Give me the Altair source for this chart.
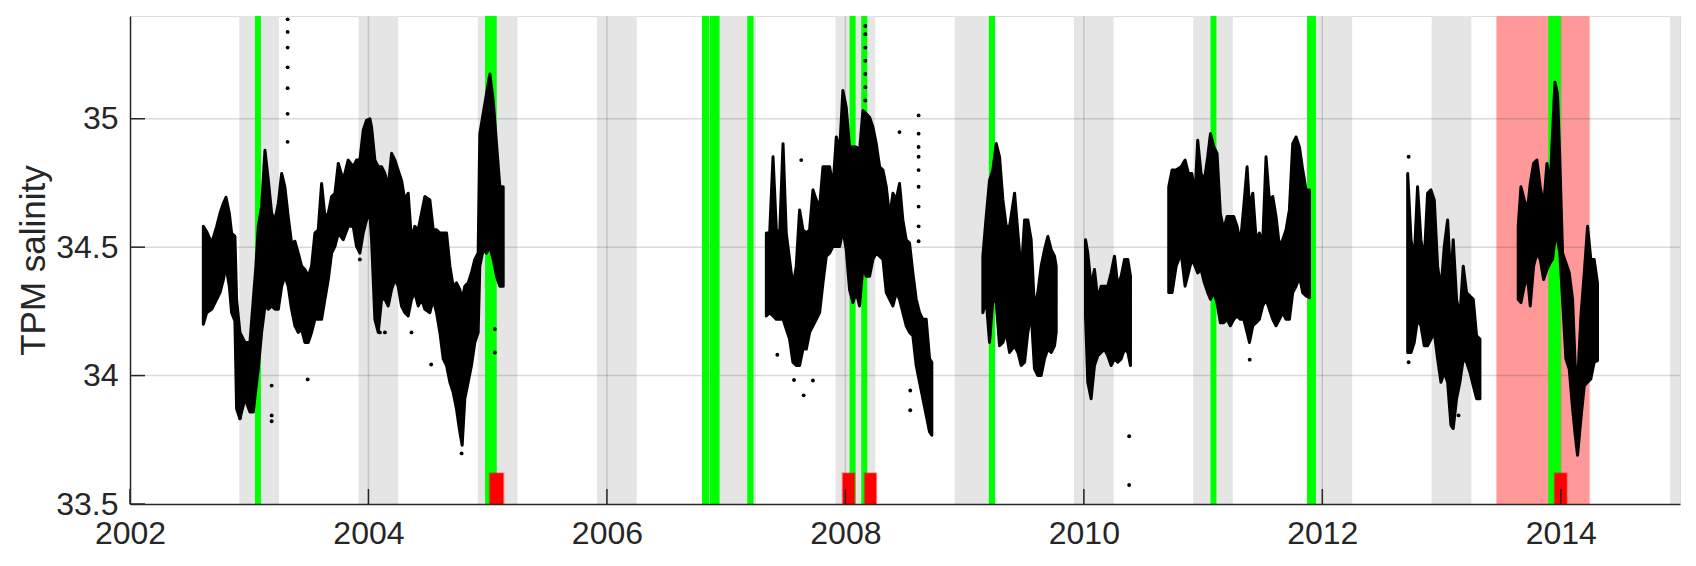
import altair as alt
import pandas as pd

# ---------------- axes / ranges ----------------
X_MIN, X_MAX = 2002, 2015
Y_MIN, Y_MAX = 33.5, 35.4
X_TICKS = [2002, 2004, 2006, 2008, 2010, 2012, 2014]
Y_TICKS = [33.5, 34, 34.5, 35]
X_GRID = [2004, 2006, 2008, 2010, 2012, 2014]
Y_GRID = [34, 34.5, 35]

# ---------------- shaded periods ----------------
WINTER_START = [2002.917, 2003.917, 2004.917, 2005.917, 2006.917, 2007.917, 2008.917,
                2009.917, 2010.917, 2011.917, 2012.917, 2013.917, 2014.917]
WINTER_END = [2003.25, 2004.25, 2005.25, 2006.25, 2007.25, 2008.25, 2009.25,
              2010.25, 2011.25, 2012.25, 2013.25, 2014.25, 2015.25]
PINK_START = [2013.46]
PINK_END = [2014.24]
GREEN_START = [2003.048, 2004.978, 2006.797, 2006.861, 2007.177, 2008.035, 2008.133,
               2009.203, 2011.062, 2011.872, 2013.895]
GREEN_END = [2003.098, 2005.076, 2006.856, 2006.945, 2007.230, 2008.086, 2008.184,
             2009.256, 2011.112, 2011.947, 2014.000]
RED_START = [2005.017, 2007.977, 2008.161, 2013.948]
RED_END = [2005.132, 2008.077, 2008.259, 2014.050]
RED_TOP = 33.62

# ---------------- salinity envelopes (time, low, high) ----------------
SEG_A_YEAR = [2002.615, 2002.643, 2002.685, 2002.727, 2002.755, 2002.783, 2002.805, 2002.833,
              2002.852, 2002.880, 2002.894, 2002.922, 2002.964, 2003.006, 2003.034, 2003.056,
              2003.076, 2003.104, 2003.132, 2003.160, 2003.188, 2003.216, 2003.244, 2003.272,
              2003.299, 2003.327, 2003.355, 2003.383, 2003.411, 2003.439, 2003.467, 2003.495,
              2003.523, 2003.551, 2003.579, 2003.607, 2003.635, 2003.663, 2003.691, 2003.719,
              2003.747, 2003.788, 2003.830, 2003.872, 2003.900, 2003.928, 2003.956, 2003.984,
              2004.012, 2004.026, 2004.054, 2004.082, 2004.110, 2004.138, 2004.166, 2004.194,
              2004.222, 2004.249, 2004.277, 2004.305, 2004.333, 2004.361, 2004.389, 2004.417,
              2004.445, 2004.473, 2004.515, 2004.543, 2004.571, 2004.599, 2004.627, 2004.655,
              2004.683, 2004.710, 2004.738, 2004.766, 2004.786, 2004.808, 2004.836, 2004.864,
              2004.892, 2004.920, 2004.934, 2004.962, 2004.990, 2005.018, 2005.046, 2005.074,
              2005.102, 2005.130]
SEG_A_LO = [34.200, 34.245, 34.258, 34.297, 34.323, 34.374, 34.426, 34.348,
            34.245, 34.213, 33.871, 33.832, 33.910, 33.858, 33.858, 33.948,
            34.026, 34.168, 34.271, 34.258, 34.271, 34.258, 34.258, 34.348,
            34.387, 34.348, 34.258, 34.194, 34.168, 34.181, 34.129, 34.129,
            34.168, 34.219, 34.219, 34.219, 34.297, 34.374, 34.477, 34.503,
            34.555, 34.529, 34.581, 34.581, 34.503, 34.477, 34.555, 34.606,
            34.632, 34.529, 34.219, 34.168, 34.297, 34.297, 34.271, 34.335,
            34.374, 34.348, 34.271, 34.245, 34.232, 34.297, 34.323, 34.271,
            34.297, 34.258, 34.245, 34.297, 34.245, 34.168, 34.065, 34.039,
            33.974, 33.935, 33.871, 33.781, 33.729, 33.910, 33.974, 34.039,
            34.129, 34.168, 34.426, 34.490, 34.477, 34.503, 34.452, 34.387,
            34.348, 34.348]
SEG_A_HI = [34.581, 34.561, 34.516, 34.581, 34.632, 34.671, 34.694, 34.632,
            34.555, 34.542, 34.297, 34.168, 34.129, 34.129, 34.297, 34.426,
            34.581, 34.658, 34.877, 34.761, 34.632, 34.606, 34.671, 34.787,
            34.735, 34.619, 34.516, 34.523, 34.477, 34.426, 34.413, 34.387,
            34.426, 34.555, 34.568, 34.748, 34.619, 34.632, 34.697, 34.710,
            34.826, 34.761, 34.839, 34.813, 34.839, 34.839, 34.955, 34.994,
            35.000, 34.968, 34.839, 34.813, 34.813, 34.787, 34.735, 34.865,
            34.839, 34.800, 34.761, 34.684, 34.710, 34.529, 34.581, 34.568,
            34.632, 34.697, 34.684, 34.568, 34.568, 34.555, 34.555, 34.555,
            34.426, 34.348, 34.361, 34.335, 34.297, 34.348, 34.361, 34.400,
            34.452, 34.477, 34.942, 35.019, 35.097, 35.174, 35.071, 34.903,
            34.735, 34.735]

SEG_B_YEAR = [2007.337, 2007.365, 2007.393, 2007.421, 2007.449, 2007.477, 2007.504, 2007.532,
              2007.560, 2007.588, 2007.616, 2007.644, 2007.672, 2007.700, 2007.728, 2007.756,
              2007.784, 2007.812, 2007.840, 2007.868, 2007.896, 2007.924, 2007.952, 2007.979,
              2008.007, 2008.035, 2008.063, 2008.091, 2008.119, 2008.147, 2008.175, 2008.203,
              2008.231, 2008.259, 2008.287, 2008.315, 2008.343, 2008.371, 2008.399, 2008.426,
              2008.454, 2008.482, 2008.510, 2008.538, 2008.566, 2008.594, 2008.622, 2008.650,
              2008.678, 2008.706, 2008.725]
SEG_B_LO = [34.232, 34.245, 34.232, 34.219, 34.219, 34.219, 34.181, 34.142,
            34.052, 34.039, 34.039, 34.103, 34.103, 34.168, 34.194, 34.219,
            34.245, 34.361, 34.465, 34.477, 34.503, 34.503, 34.503, 34.568,
            34.490, 34.335, 34.284, 34.323, 34.271, 34.426, 34.387, 34.387,
            34.452, 34.477, 34.465, 34.452, 34.323, 34.297, 34.271, 34.323,
            34.297, 34.245, 34.194, 34.168, 34.155, 34.039, 33.974, 33.910,
            33.845, 33.781, 33.768]
SEG_B_HI = [34.555, 34.555, 34.852, 34.568, 34.555, 34.903, 34.555, 34.452,
            34.348, 34.426, 34.645, 34.568, 34.555, 34.568, 34.723, 34.684,
            34.658, 34.813, 34.813, 34.813, 34.735, 34.929, 34.877, 35.110,
            35.045, 34.890, 34.890, 34.890, 34.877, 35.032, 35.019, 35.006,
            34.968, 34.903, 34.813, 34.800, 34.735, 34.619, 34.710, 34.684,
            34.748, 34.606, 34.529, 34.516, 34.400, 34.297, 34.245, 34.219,
            34.219, 34.065, 34.052]

SEG_C_YEAR = [2009.153, 2009.181, 2009.209, 2009.237, 2009.265, 2009.293, 2009.321, 2009.349,
              2009.377, 2009.419, 2009.447, 2009.475, 2009.503, 2009.530, 2009.558, 2009.586,
              2009.614, 2009.642, 2009.670, 2009.698, 2009.726, 2009.754, 2009.768]
SEG_C_LO = [34.245, 34.297, 34.129, 34.297, 34.284, 34.116, 34.129, 34.168,
            34.090, 34.116, 34.090, 34.039, 34.052, 34.168, 34.245, 34.026,
            34.000, 34.000, 34.065, 34.103, 34.090, 34.116, 34.168]
SEG_C_HI = [34.465, 34.619, 34.761, 34.800, 34.903, 34.852, 34.684, 34.581,
            34.581, 34.710, 34.555, 34.400, 34.606, 34.606, 34.529, 34.258,
            34.323, 34.426, 34.490, 34.542, 34.490, 34.465, 34.426]

SEG_D_YEAR = [2010.014, 2010.033, 2010.061, 2010.089, 2010.117, 2010.145, 2010.173, 2010.201,
              2010.229, 2010.257, 2010.285, 2010.313, 2010.341, 2010.369, 2010.391]
SEG_D_LO = [34.232, 33.974, 33.910, 34.039, 34.077, 34.090, 34.103, 34.077,
            34.039, 34.065, 34.052, 34.065, 34.103, 34.090, 34.039]
SEG_D_HI = [34.529, 34.477, 34.348, 34.413, 34.297, 34.348, 34.348, 34.348,
            34.400, 34.465, 34.348, 34.387, 34.452, 34.452, 34.387]

SEG_E_YEAR = [2010.712, 2010.740, 2010.774, 2010.816, 2010.849, 2010.877, 2010.905, 2010.933,
              2010.955, 2010.983, 2011.011, 2011.039, 2011.062, 2011.090, 2011.117, 2011.145,
              2011.173, 2011.201, 2011.229, 2011.257, 2011.285, 2011.313, 2011.341, 2011.369,
              2011.389, 2011.417, 2011.445, 2011.472, 2011.500, 2011.528, 2011.556, 2011.584,
              2011.612, 2011.640, 2011.668, 2011.696, 2011.724, 2011.752, 2011.780, 2011.808,
              2011.836, 2011.864, 2011.892]
SEG_E_LO = [34.323, 34.323, 34.426, 34.477, 34.348, 34.400, 34.452, 34.426,
            34.400, 34.413, 34.361, 34.323, 34.297, 34.323, 34.284, 34.206,
            34.206, 34.219, 34.194, 34.219, 34.232, 34.219, 34.219, 34.168,
            34.129, 34.194, 34.206, 34.219, 34.271, 34.297, 34.258, 34.219,
            34.194, 34.219, 34.245, 34.219, 34.219, 34.323, 34.348, 34.387,
            34.323, 34.310, 34.303]
SEG_E_HI = [34.735, 34.800, 34.800, 34.813, 34.839, 34.787, 34.787, 34.710,
            34.916, 34.787, 34.761, 34.852, 34.942, 34.890, 34.865, 34.632,
            34.568, 34.619, 34.619, 34.619, 34.581, 34.516, 34.658, 34.813,
            34.658, 34.710, 34.529, 34.555, 34.516, 34.852, 34.684, 34.697,
            34.619, 34.503, 34.529, 34.568, 34.645, 34.903, 34.929, 34.890,
            34.800, 34.723, 34.723]

SEG_F_YEAR = [2012.716, 2012.744, 2012.771, 2012.799, 2012.827, 2012.855, 2012.883, 2012.911,
              2012.939, 2012.967, 2012.995, 2013.023, 2013.051, 2013.079, 2013.098, 2013.126,
              2013.154, 2013.182, 2013.210, 2013.238, 2013.266, 2013.294, 2013.322]
SEG_F_LO = [34.090, 34.090, 34.129, 34.219, 34.194, 34.116, 34.116, 34.142,
            34.168, 34.065, 33.974, 34.013, 33.974, 33.806, 33.794, 33.910,
            33.974, 34.065, 34.052, 34.013, 33.961, 33.910, 33.910]
SEG_F_HI = [34.787, 34.529, 34.452, 34.735, 34.529, 34.452, 34.710, 34.723,
            34.684, 34.426, 34.335, 34.503, 34.606, 34.361, 34.529, 34.297,
            34.232, 34.426, 34.323, 34.310, 34.297, 34.155, 34.142]

SEG_G_YEAR = [2013.643, 2013.666, 2013.694, 2013.721, 2013.744, 2013.772, 2013.800, 2013.828,
              2013.856, 2013.884, 2013.911, 2013.931, 2013.951, 2013.973, 2013.992, 2014.015,
              2014.043, 2014.071, 2014.099, 2014.121, 2014.141, 2014.169, 2014.197, 2014.225,
              2014.252, 2014.280, 2014.308]
SEG_G_LO = [34.297, 34.284, 34.348, 34.387, 34.271, 34.426, 34.477, 34.452,
            34.374, 34.413, 34.439, 34.452, 34.529, 34.529, 34.477, 34.297,
            34.065, 34.026, 33.871, 33.768, 33.690, 33.832, 33.961, 33.974,
            33.987, 34.052, 34.058]
SEG_G_HI = [34.581, 34.735, 34.684, 34.645, 34.748, 34.826, 34.839, 34.735,
            34.658, 34.826, 34.735, 34.942, 35.142, 35.097, 34.839, 34.477,
            34.439, 34.400, 34.297, 34.039, 33.974, 34.232, 34.400, 34.581,
            34.452, 34.452, 34.361]

# ---------------- isolated points ----------------
OUT_YEAR = [2003.322, 2003.322, 2003.322, 2003.322, 2003.322, 2003.322, 2003.322,
            2003.188, 2003.188, 2003.188, 2003.490, 2002.922, 2004.526, 2004.781,
            2004.361, 2004.096, 2004.138, 2003.928, 2005.060, 2005.060,
            2008.167, 2008.167, 2008.167, 2008.167, 2008.167, 2008.167, 2008.167,
            2008.614, 2008.614, 2008.614, 2008.614, 2008.614, 2008.614, 2008.614, 2008.614, 2008.614,
            2008.454, 2007.630, 2007.650, 2007.429, 2007.569, 2007.728, 2008.544, 2008.544,
            2010.380, 2010.380, 2011.391, 2012.724, 2012.724, 2013.143]
OUT_VAL = [35.387, 35.338, 35.277, 35.200, 35.119, 35.019, 34.910,
           33.961, 33.845, 33.822, 33.985, 33.835, 34.043, 33.697,
           34.168, 34.168, 34.168, 34.452, 34.090, 34.181,
           35.361, 35.329, 35.277, 35.226, 35.174, 35.123, 35.071,
           35.013, 34.942, 34.890, 34.852, 34.800, 34.735, 34.658, 34.581, 34.523,
           34.948, 34.839, 33.923, 34.081, 33.983, 33.981, 33.942, 33.865,
           33.764, 33.574, 34.062, 34.852, 34.052, 33.845]

# ---------------- build tables ----------------
segments = [("A", SEG_A_YEAR, SEG_A_LO, SEG_A_HI), ("B", SEG_B_YEAR, SEG_B_LO, SEG_B_HI),
            ("C", SEG_C_YEAR, SEG_C_LO, SEG_C_HI), ("D", SEG_D_YEAR, SEG_D_LO, SEG_D_HI),
            ("E", SEG_E_YEAR, SEG_E_LO, SEG_E_HI), ("F", SEG_F_YEAR, SEG_F_LO, SEG_F_HI),
            ("G", SEG_G_YEAR, SEG_G_LO, SEG_G_HI)]
rows = []
for name, ys, lo, hi in segments:
    for t, a, b in zip(ys, lo, hi):
        rows.append({"seg": name, "t": t, "lo": a, "hi": b})
env = pd.DataFrame(rows)
pts = pd.DataFrame({"t": OUT_YEAR, "v": OUT_VAL})
winter = pd.DataFrame({"s": WINTER_START, "e": WINTER_END})
pink = pd.DataFrame({"s": PINK_START, "e": PINK_END})
green = pd.DataFrame({"s": GREEN_START, "e": GREEN_END})
red = pd.DataFrame({"s": RED_START, "e": RED_END})
xgrid = pd.DataFrame({"x": X_GRID})
ygrid = pd.DataFrame({"y": Y_GRID})
xticks = pd.DataFrame({"x": X_TICKS})
yticks = pd.DataFrame({"y": Y_TICKS})

W, H = 1550, 488
TICK = 15
TXT = "#262626"
FONT = "Liberation Sans"

XS = alt.Scale(domain=[X_MIN, X_MAX], nice=False, zero=False)
YS = alt.Scale(domain=[Y_MIN, Y_MAX], nice=False, zero=False)
XAX = alt.Axis(values=X_TICKS, format="d", tickSize=0, grid=False, domainColor=TXT,
               domainWidth=1.5, labelFontSize=32, labelColor=TXT, labelFont=FONT,
               labelPadding=14, labelFlush=False, zindex=2)
YAX = alt.Axis(values=Y_TICKS, format="~g", tickSize=0, grid=False, domainColor=TXT,
               domainWidth=1.5, labelFontSize=32, labelColor=TXT, labelFont=FONT,
               labelPadding=12, titleFontSize=35, titleFont=FONT, titleColor=TXT,
               titleFontWeight="normal", titlePadding=4, zindex=2)


def X(f):
    return alt.X(f, type="quantitative", scale=XS, axis=XAX, title=None)


def Y(f):
    return alt.Y(f, type="quantitative", scale=YS, axis=YAX, title="TPM salinity")


bands = alt.Chart(winter).mark_rect(color="#E5E5E5", clip=True).encode(
    x=X("s"), x2="e", y=alt.datum(Y_MIN, scale=YS), y2=alt.datum(Y_MAX))
pinkband = alt.Chart(pink).mark_rect(color="#FF9999", clip=True).encode(
    x=X("s"), x2="e", y=alt.datum(Y_MIN), y2=alt.datum(Y_MAX))
hgrid = alt.Chart(ygrid).mark_rule(color=TXT, opacity=0.17, strokeWidth=1.5).encode(y=Y("y"))
vgrid = alt.Chart(xgrid).mark_rule(color=TXT, opacity=0.17, strokeWidth=1.5).encode(x=X("x"))
greens = alt.Chart(green).mark_rect(color="#00FF00").encode(
    x=X("s"), x2="e", y=alt.datum(Y_MIN), y2=alt.datum(Y_MAX))
area = alt.Chart(env).mark_area(color="black", stroke="black", strokeWidth=3,
                                strokeJoin="round", interpolate="linear").encode(
    x=X("t"), y=Y("lo"), y2="hi", detail="seg:N")
dots = alt.Chart(pts).mark_circle(color="black", size=15, opacity=1, clip=True).encode(
    x=X("t"), y=Y("v"))
reds = alt.Chart(red).mark_rect(color="#FF0000", stroke="#FF0000", strokeOpacity=0.35,
                                strokeWidth=2).encode(
    x=X("s"), x2="e", y=alt.datum(Y_MIN), y2=alt.datum(RED_TOP))
xt = alt.Chart(xticks).mark_rule(color=TXT, strokeWidth=1.5).encode(
    x=X("x"), y=alt.value(H - TICK), y2=alt.value(H))
yt = alt.Chart(yticks).mark_rule(color=TXT, strokeWidth=1.5).encode(
    y=Y("y"), x=alt.value(0), x2=alt.value(TICK))

chart = alt.layer(bands, pinkband, hgrid, vgrid, greens, area, dots, reds, xt, yt).properties(
    width=W, height=H,
    autosize=alt.AutoSizeParams(type="none"),
    padding={"left": 122, "top": 8, "right": 6, "bottom": 50},
).configure_view(stroke=None).configure(background="white")

chart.save("out.html", embed_options={"renderer": "svg", "actions": False})
